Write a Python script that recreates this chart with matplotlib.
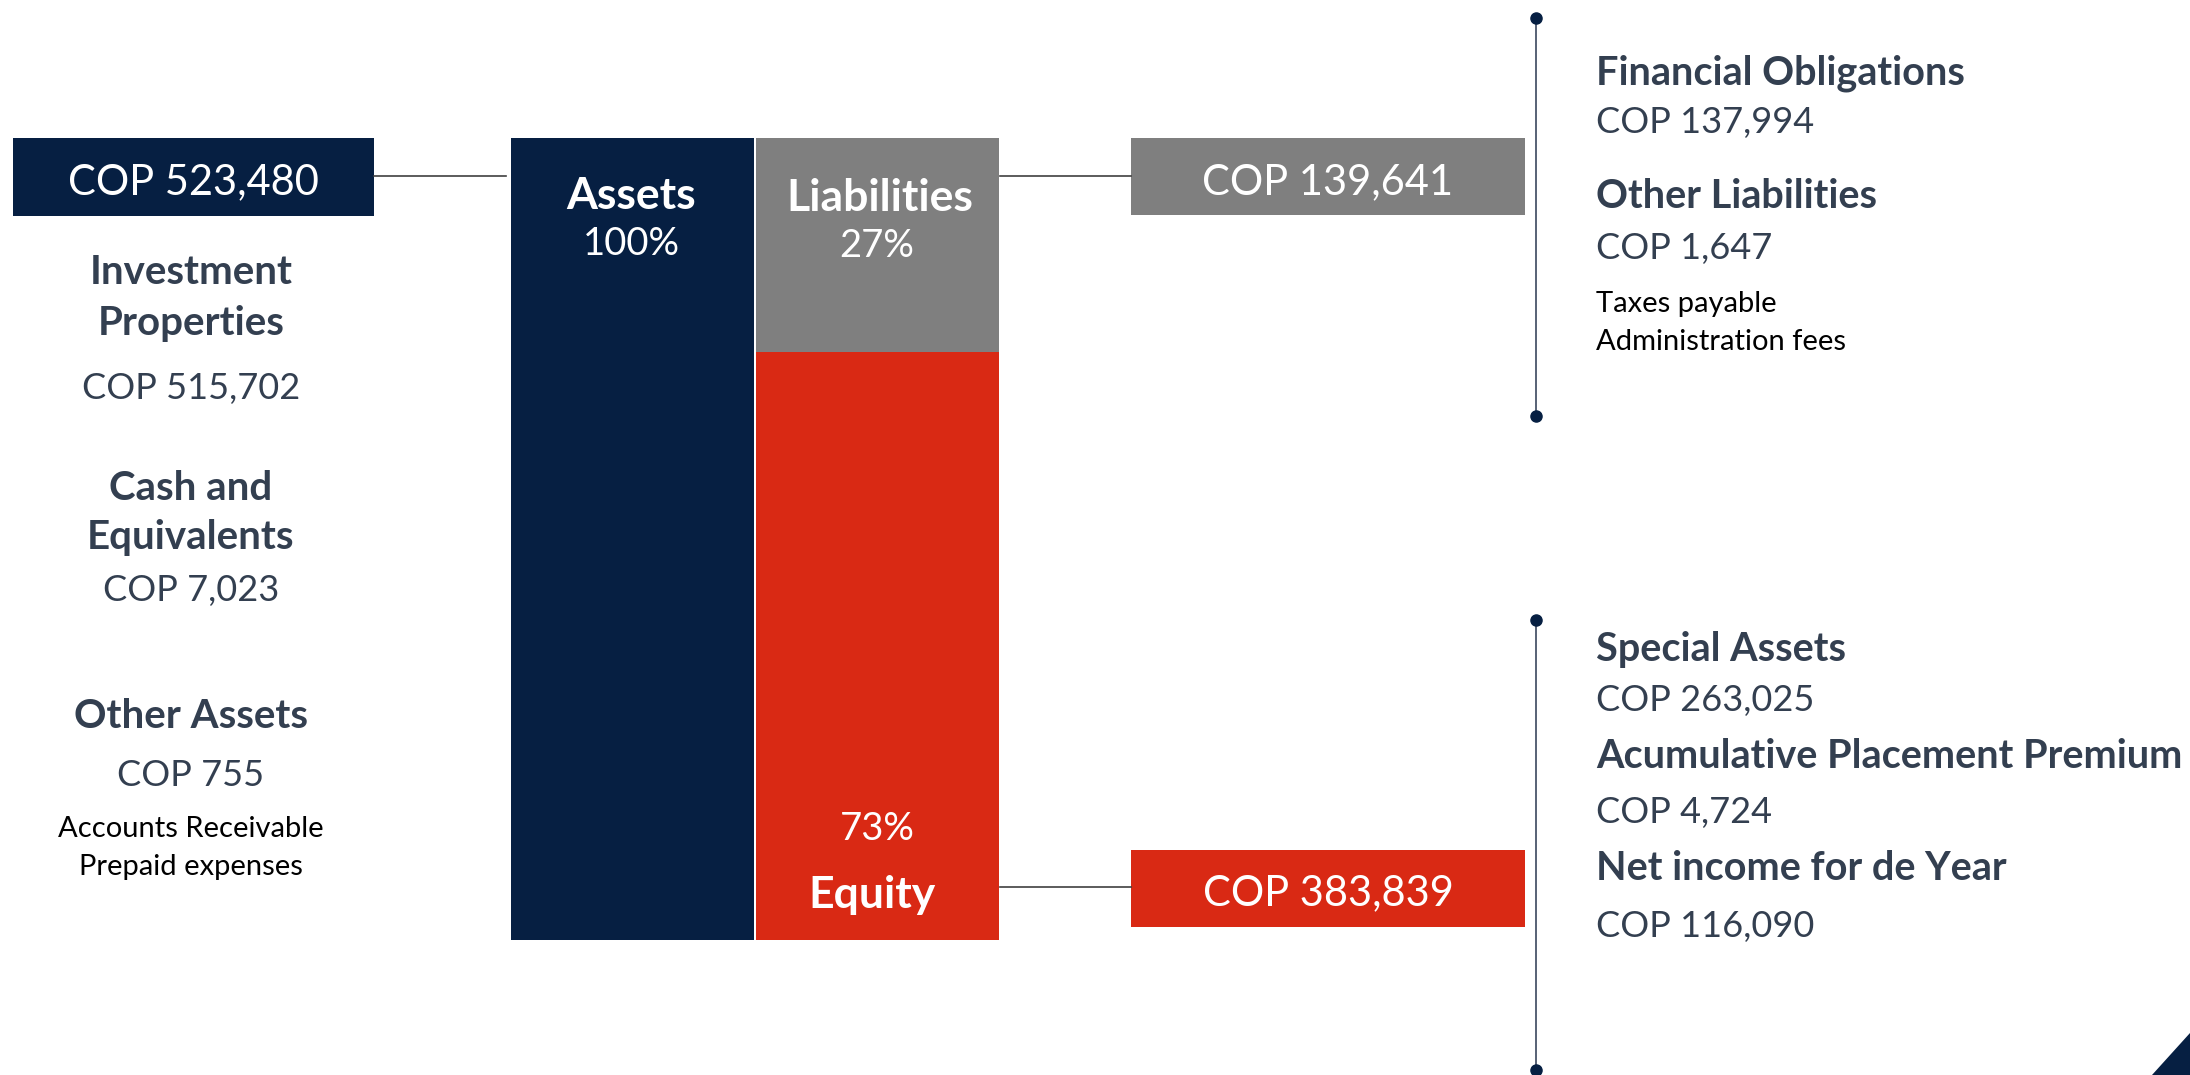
import matplotlib
matplotlib.use("Agg")
import matplotlib.pyplot as plt
from matplotlib.patches import Rectangle, Polygon

# ---------------- data ----------------
bar_names = ["Assets", "Liabilities", "Equity"]
total_assets = 523480
liabilities = 139641
equity = 383839

asset_items = [["Investment", "Properties"], ["Cash and", "Equivalents"], ["Other Assets"]]
asset_values = ["COP 515,702", "COP 7,023", "COP 755"]
asset_note = ["Accounts Receivable", "Prepaid expenses"]

liab_items = ["Financial Obligations", "Other Liabilities"]
liab_values = ["COP 137,994", "COP 1,647"]
liab_note = ["Taxes payable", "Administration fees"]

equity_items = ["Special Assets", "Acumulative Placement Premium", "Net income for de Year"]
equity_values = ["COP 263,025", "COP 4,724", "COP 116,090"]

# ---------------- style ----------------
NAVY = "#061f42"
GREY = "#7f7f7f"
RED = "#d92914"
TXT = "#333f50"
FONT = "Lato"
plt.rcParams["font.family"] = [FONT, "DejaVu Sans"]

W, H = 2190, 1075
fig = plt.figure(figsize=(W / 100, H / 100), dpi=100)

# bar axes (stacked bars driven by data)
bx0, bx1, by0, by1 = 510, 1000, 138, 940
bax = fig.add_axes([bx0 / W, (H - by1) / H, (bx1 - bx0) / W, (by1 - by0) / H])
bax.bar([0], [total_assets], width=0.992, color=NAVY)
bax.bar([1], [equity], width=0.992, color=RED)
bax.bar([1], [liabilities], bottom=[equity], width=0.992, color=GREY)
bax.set_xlim(-0.5, 1.5)
bax.set_ylim(0, total_assets)
bax.axis("off")

# overlay axes in pixel coordinates
ax = fig.add_axes([0, 0, 1, 1])
ax.set_xlim(0, W)
ax.set_ylim(H, 0)
ax.axis("off")
ax.patch.set_visible(False)

def fmt(v):
    return "COP {:,}".format(v)

pct_l = round(100 * liabilities / total_assets)
pct_e = round(100 * equity / total_assets)

DY = 3  # small vertical nudge for text baseline
BIG_B = 32
PCT = 27.5
# bar labels
ax.text(631, 193 + DY, bar_names[0], color="white", fontsize=BIG_B, fontweight="bold", ha="center", va="center")
ax.text(631, 241 + DY, "100%", color="white", fontsize=PCT, ha="center", va="center")
ax.text(880, 195 + DY, bar_names[1], color="white", fontsize=BIG_B, fontweight="bold", ha="center", va="center")
ax.text(877, 243 + DY, f"{pct_l}%", color="white", fontsize=PCT, ha="center", va="center")
ax.text(877, 826 + DY, f"{pct_e}%", color="white", fontsize=PCT, ha="center", va="center")
ax.text(872, 892 + DY, bar_names[2], color="white", fontsize=BIG_B, fontweight="bold", ha="center", va="center")

BOX = 30
# left total box
ax.add_patch(Rectangle((13, 138), 361, 78, color=NAVY, lw=0))
ax.text(193, 179 + DY, fmt(total_assets), color="white", fontsize=BOX, ha="center", va="center")
ax.plot([374, 506], [176, 176], color="#404040", lw=1.2)

# right boxes
ax.add_patch(Rectangle((1131, 138), 394, 77, color=GREY, lw=0))
ax.text(1328, 179 + DY, fmt(liabilities), color="white", fontsize=BOX, ha="center", va="center")
ax.plot([1000, 1131], [176, 176], color="#404040", lw=1.2)

ax.add_patch(Rectangle((1131, 850), 394, 77, color=RED, lw=0))
ax.text(1328, 890 + DY, fmt(equity), color="white", fontsize=BOX, ha="center", va="center")
ax.plot([1000, 1131], [887, 887], color="#404040", lw=1.2)

LB = 29
RB = 28.5
REG = 26
NOTE = 21
# left asset details
cx = 191
item_ys = [[270, 320], [485, 535], [714]]
val_ys = [385, 587, 772]
for lines, ys, val, yv in zip(asset_items, item_ys, asset_values, val_ys):
    for ln, y in zip(lines, ys):
        ax.text(cx, y + DY, ln, color=TXT, fontsize=LB, fontweight="bold", ha="center", va="center")
    ax.text(cx, yv + DY, val, color=TXT, fontsize=REG, ha="center", va="center")
ax.text(cx, 826 + DY, asset_note[0], color="black", fontsize=NOTE, ha="center", va="center")
ax.text(cx, 864 + DY, asset_note[1], color="black", fontsize=NOTE, ha="center", va="center")

# vertical bracket lines
for y0, y1 in [(18, 416), (620, 1070)]:
    ax.plot([1536, 1536], [y0, y1], color="#4a556a", lw=1.3)
    ax.plot([1536, 1536], [y0, y1], ls="none", marker="o", ms=8, color=NAVY)

# right liability details
rx = 1596
ax.text(rx, 70 + DY, liab_items[0], color=TXT, fontsize=RB, fontweight="bold", ha="left", va="center")
ax.text(rx, 120 + DY, liab_values[0], color=TXT, fontsize=REG, ha="left", va="center")
ax.text(rx, 193 + DY, liab_items[1], color=TXT, fontsize=RB, fontweight="bold", ha="left", va="center")
ax.text(rx, 246 + DY, liab_values[1], color=TXT, fontsize=REG, ha="left", va="center")
ax.text(rx, 301 + DY, liab_note[0], color="black", fontsize=NOTE, ha="left", va="center")
ax.text(rx, 339 + DY, liab_note[1], color="black", fontsize=NOTE, ha="left", va="center")

# right equity details
ys_items = [647, 753, 865]
ys_vals = [698, 809, 923]
for name, val, yi, yv in zip(equity_items, equity_values, ys_items, ys_vals):
    ax.text(rx, yi + DY, name, color=TXT, fontsize=RB, fontweight="bold", ha="left", va="center")
    ax.text(rx, yv + DY, val, color=TXT, fontsize=REG, ha="left", va="center")

# corner decoration
ax.add_patch(Polygon([[2152, 1075], [2190, 1033], [2190, 1075]], closed=True, color=NAVY, lw=0))

fig.savefig("out.png", dpi=100)
